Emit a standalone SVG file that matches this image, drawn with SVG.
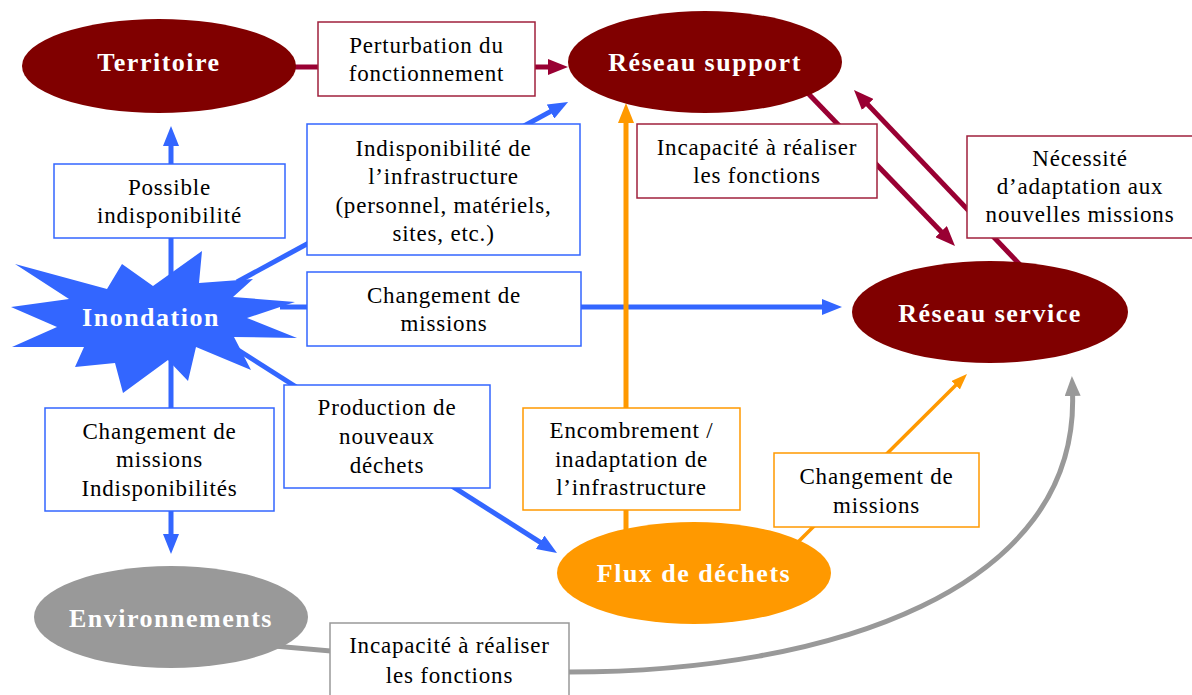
<svg xmlns="http://www.w3.org/2000/svg" width="1192" height="695" viewBox="0 0 1192 695">
<style>
.lbl{font-family:"Liberation Serif","Times New Roman",serif;font-size:23px;fill:#000;text-anchor:middle;letter-spacing:0.8px}
.node{font-family:"Liberation Serif","Times New Roman",serif;font-size:26px;font-weight:bold;fill:#fff;text-anchor:middle;letter-spacing:1.5px}
.bx{fill:#fff;stroke-width:1.5}
.bb{stroke:#3366ff}.br{stroke:#a0203c}.bo{stroke:#ff9900}.bg{stroke:#999999}
.c{fill:none}
.cb{stroke:#3366ff;stroke-width:5}
.cr{stroke:#990033;stroke-width:5}
.co{stroke:#ff9900;stroke-width:5}
.cg{stroke:#999999;stroke-width:5}
</style>
<defs>
<marker id="ab" markerUnits="userSpaceOnUse" markerWidth="20" markerHeight="16" refX="4" refY="8" orient="auto"><path d="M0,0 L20,8 L0,16 z" fill="#3366ff"/></marker>
<marker id="ar" markerUnits="userSpaceOnUse" markerWidth="20" markerHeight="16" refX="4" refY="8" orient="auto"><path d="M0,0 L20,8 L0,16 z" fill="#990033"/></marker>
<marker id="ao" markerUnits="userSpaceOnUse" markerWidth="20" markerHeight="16" refX="4" refY="8" orient="auto"><path d="M0,0 L20,8 L0,16 z" fill="#ff9900"/></marker>
<marker id="aos" markerUnits="userSpaceOnUse" markerWidth="16" markerHeight="12" refX="4" refY="6" orient="auto"><path d="M0,0 L16,6 L0,12 z" fill="#ff9900"/></marker>
<marker id="ag" markerUnits="userSpaceOnUse" markerWidth="20" markerHeight="16" refX="4" refY="8" orient="auto"><path d="M0,0 L20,8 L0,16 z" fill="#999999"/></marker>
</defs>

<g id="connectors">
<line class="c cr" x1="290" y1="67" x2="552" y2="67" marker-end="url(#ar)"/>
<line class="c cb" x1="171" y1="300" x2="171" y2="142" marker-end="url(#ab)"/>
<line class="c cb" x1="171" y1="330" x2="171" y2="538" marker-end="url(#ab)"/>
<line class="c cb" x1="237" y1="282" x2="554" y2="109.6" marker-end="url(#ab)"/>
<line class="c cb" x1="280" y1="307" x2="826" y2="307" marker-end="url(#ab)"/>
<line class="c cb" x1="235" y1="348" x2="543.5" y2="544.4" marker-end="url(#ab)"/>
<line class="c co" x1="626" y1="540" x2="626" y2="119" marker-end="url(#ao)"/>
<line class="c co" x1="790" y1="550" x2="958.5" y2="382.4" style="stroke-width:3.5" marker-end="url(#aos)"/>
<line class="c cr" x1="800" y1="85" x2="943.9" y2="234.5" marker-end="url(#ar)"/>
<line class="c cr" x1="1025" y1="270" x2="865" y2="101.6" marker-end="url(#ar)"/>
<path class="c cg" d="M250 644 L569 672 C830 672 1080 590 1072.5 392" marker-end="url(#ag)"/>
</g>

<g id="territoire">
<ellipse cx="159" cy="66" rx="137" ry="47" fill="#800000"/>
<text class="node" x="159" y="71">Territoire</text>
</g>
<g id="reseau-support">
<ellipse cx="705" cy="62" rx="137" ry="51" fill="#800000"/>
<text class="node" x="705" y="71">Réseau support</text>
</g>
<g id="reseau-service">
<ellipse cx="990" cy="312" rx="138" ry="51" fill="#800000"/>
<text class="node" x="990" y="322">Réseau service</text>
</g>
<g id="flux-dechets">
<ellipse cx="694" cy="573" rx="137" ry="51" fill="#ff9900"/>
<text class="node" x="694" y="582">Flux de déchets</text>
</g>
<g id="environnements">
<ellipse cx="171" cy="617" rx="137" ry="51" fill="#999999"/>
<text class="node" x="171" y="627">Environnements</text>
</g>
<g id="inondation">
<polygon points="15,264 107,289 122,264 153,286 202,251 199,283 253,279 233,297 295,302 247,318 297,338 234,337 251,370 196,347 188,381 168,360 123,393 115,363 75,367 84,347 12,347 57,327 11,307 69,299" fill="#3366ff"/>
<text class="node" x="151" y="326">Inondation</text>
</g>

<g id="lbl-perturbation">
<rect class="bx br" x="318" y="22" width="217" height="74"/>
<text class="lbl" x="426.5" y="53">Perturbation du</text>
<text class="lbl" x="426.5" y="81">fonctionnement</text>
</g>
<g id="lbl-possible">
<rect class="bx bb" x="54" y="164" width="231" height="74"/>
<text class="lbl" x="169.5" y="195">Possible</text>
<text class="lbl" x="169.5" y="223">indisponibilité</text>
</g>
<g id="lbl-indispo-infra">
<rect class="bx bb" x="307" y="124" width="273" height="131"/>
<text class="lbl" x="443.5" y="156">Indisponibilité de</text>
<text class="lbl" x="443.5" y="184">l’infrastructure</text>
<text class="lbl" x="443.5" y="213">(personnel, matériels,</text>
<text class="lbl" x="443.5" y="241">sites, etc.)</text>
</g>
<g id="lbl-changement-mid">
<rect class="bx bb" x="307" y="272" width="274" height="74"/>
<text class="lbl" x="444" y="303">Changement de</text>
<text class="lbl" x="444" y="331">missions</text>
</g>
<g id="lbl-production">
<rect class="bx bb" x="284" y="385" width="206" height="103"/>
<text class="lbl" x="387" y="415">Production de</text>
<text class="lbl" x="387" y="444">nouveaux</text>
<text class="lbl" x="387" y="473">déchets</text>
</g>
<g id="lbl-changement-indispo">
<rect class="bx bb" x="45" y="408" width="229" height="103"/>
<text class="lbl" x="159.5" y="439">Changement de</text>
<text class="lbl" x="159.5" y="467">missions</text>
<text class="lbl" x="159.5" y="496">Indisponibilités</text>
</g>
<g id="lbl-encombrement">
<rect class="bx bo" x="523" y="408" width="217" height="102"/>
<text class="lbl" x="631.5" y="438">Encombrement /</text>
<text class="lbl" x="631.5" y="467">inadaptation de</text>
<text class="lbl" x="631.5" y="495">l’infrastructure</text>
</g>
<g id="lbl-changement-orange">
<rect class="bx bo" x="774" y="453" width="205" height="74"/>
<text class="lbl" x="876.5" y="484">Changement de</text>
<text class="lbl" x="876.5" y="513">missions</text>
</g>
<g id="lbl-incapacite-rs">
<rect class="bx br" x="637" y="124" width="240" height="74"/>
<text class="lbl" x="757" y="155">Incapacité à réaliser</text>
<text class="lbl" x="757" y="183">les fonctions</text>
</g>
<g id="lbl-necessite">
<rect class="bx br" x="967" y="136" width="230" height="102"/>
<text class="lbl" x="1080" y="166">Nécessité</text>
<text class="lbl" x="1080" y="194">d’adaptation aux</text>
<text class="lbl" x="1080" y="222">nouvelles missions</text>
</g>
<g id="lbl-incapacite-env">
<rect class="bx bg" x="330" y="623" width="239" height="80"/>
<text class="lbl" x="449.5" y="653">Incapacité à réaliser</text>
<text class="lbl" x="449.5" y="683">les fonctions</text>
</g>
</svg>
